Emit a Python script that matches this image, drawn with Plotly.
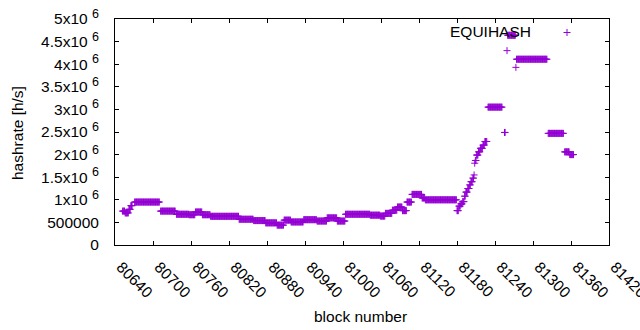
import plotly.graph_objects as go

# ---- data: constant-hashrate runs (block ranges, value in h/s) ----
seg_start = [80652, 80656, 80662, 80665, 80671, 80712, 80737, 80757, 80767, 80778, 80791,
             80836, 80859, 80878, 80896, 80907, 80918, 80938, 80959, 80975, 80991, 81004,
             81043, 81059, 81067, 81078, 81086, 81094, 81101, 81109, 81125, 81130,
             81180, 81183, 81186, 81189, 81192, 81194, 81197, 81200, 81202, 81205, 81207,
             81208, 81209, 81211, 81214, 81217, 81221, 81224,
             81229, 81255, 81259, 81260, 81273, 81274, 81324, 81350, 81358]
seg_end = [80655, 80661, 80664, 80667, 80710, 80735, 80756, 80766, 80777, 80790, 80835,
           80858, 80877, 80895, 80906, 80917, 80937, 80958, 80974, 80990, 81003, 81042,
           81058, 81066, 81077, 81085, 81093, 81100, 81108, 81124, 81129, 81179,
           81182, 81185, 81188, 81191, 81193, 81196, 81199, 81201, 81204, 81206, 81207,
           81208, 81210, 81213, 81216, 81220, 81223, 81227,
           81251, 81256, 81259, 81272, 81273, 81322, 81348, 81357, 81364]
seg_value = [0.75e6, 0.71e6, 0.79e6, 0.87e6, 0.95e6, 0.75e6, 0.68e6, 0.67e6, 0.73e6, 0.67e6, 0.635e6,
             0.57e6, 0.54e6, 0.49e6, 0.44e6, 0.55e6, 0.51e6, 0.56e6, 0.53e6, 0.60e6, 0.53e6, 0.68e6,
             0.66e6, 0.64e6, 0.70e6, 0.77e6, 0.84e6, 0.76e6, 0.95e6, 1.12e6, 1.04e6, 1.0e6,
             0.76e6, 0.86e6, 0.91e6, 0.96e6, 1.08e6, 1.17e6, 1.25e6, 1.33e6, 1.40e6, 1.48e6, 1.55e6,
             1.81e6, 1.87e6, 1.99e6, 2.06e6, 2.14e6, 2.21e6, 2.29e6,
             3.05e6, 2.49e6, 4.30e6, 4.64e6, 3.93e6, 4.11e6, 2.47e6, 2.06e6, 2.0e6]

series_name = "EQUIHASH"
x_ticks = list(range(80640, 81421, 60))
y_tickvals = [0, 500000, 1000000, 1500000, 2000000, 2500000, 3000000, 3500000, 4000000, 4500000, 5000000]
y_mantissa = ["0", "500000", "1", "1.5", "2", "2.5", "3", "3.5", "4", "4.5", "5"]

SUP = "<sup><span style='font-size:12.5px'>6</span></sup>"
y_ticktext = [m if i < 2 else m + "x10 " + SUP for i, m in enumerate(y_mantissa)]

# one point per block inside each run
blocks, rates = [], []
for s, e, v in zip(seg_start, seg_end, seg_value):
    for b in range(s, e + 1):
        blocks.append(b)
        rates.append(v)

COLOR = "#9400d3"
FONT = "Liberation Sans, Arial, sans-serif"
FS = 15.5

W, H = 640, 330
ML, MR, MT, MB = 115, 31, 19, 85
PW, PH = W - ML - MR, H - MT - MB

def px(xp):          # page pixel x -> paper
    return (xp - ML) / PW

def py(yp):          # page pixel y -> paper
    return (H - MB - yp) / PH

fig = go.Figure()
fig.add_trace(go.Scatter(
    x=blocks, y=rates, mode="markers", name=series_name, showlegend=False,
    marker=dict(symbol="cross-thin", size=5, color=COLOR, line=dict(color=COLOR, width=1)),
))

axis_common = dict(showline=True, linecolor="black", linewidth=1, mirror="ticks",
                   ticks="inside", ticklen=4, tickcolor="black", showgrid=False,
                   zeroline=False, automargin=False, ticklabeloverflow="allow",
                   tickfont=dict(family=FONT, size=FS, color="black"))

fig.update_xaxes(range=[80640, 81420], tickvals=x_ticks, ticktext=[str(t) for t in x_ticks],
                 tickangle=45, ticklabelstandoff=6, ticklabelshift=6, **axis_common)
fig.update_yaxes(range=[0, 5000000], tickvals=y_tickvals, ticktext=y_ticktext,
                 ticklabelstandoff=12, **axis_common)

# key: text plus a sample marker on its right (gnuplot style)
kx, ky = 567, 32.5
half = 3.5
fig.add_shape(type="line", xref="paper", yref="paper", x0=px(kx - half), x1=px(kx + half),
              y0=py(ky), y1=py(ky), line=dict(color=COLOR, width=1))
fig.add_shape(type="line", xref="paper", yref="paper", x0=px(kx), x1=px(kx),
              y0=py(ky - half), y1=py(ky + half), line=dict(color=COLOR, width=1))

fig.update_layout(
    width=W, height=H, margin=dict(l=ML, r=MR, t=MT, b=MB, autoexpand=False),
    plot_bgcolor="white", paper_bgcolor="white",
    font=dict(family=FONT, size=FS, color="black"),
    annotations=[
        dict(text=series_name, xref="paper", yref="paper", x=px(533), y=py(31.7),
             xanchor="right", yanchor="middle", showarrow=False,
             font=dict(family=FONT, size=FS, color="black")),
        dict(text="hashrate [h/s]", xref="paper", yref="paper", x=px(17), y=py(133),
             xanchor="center", yanchor="middle", textangle=-90, showarrow=False,
             font=dict(family=FONT, size=FS, color="black")),
        dict(text="block number", xref="paper", yref="paper", x=px(360), y=py(316),
             xanchor="center", yanchor="middle", showarrow=False,
             font=dict(family=FONT, size=FS, color="black")),
    ],
)

# remove the default 8px page margin so the figure fills the window exactly
fig.write_html("out.html", config={"displayModeBar": False},
               post_script="document.body.style.margin='0';document.body.style.overflow='hidden';")
